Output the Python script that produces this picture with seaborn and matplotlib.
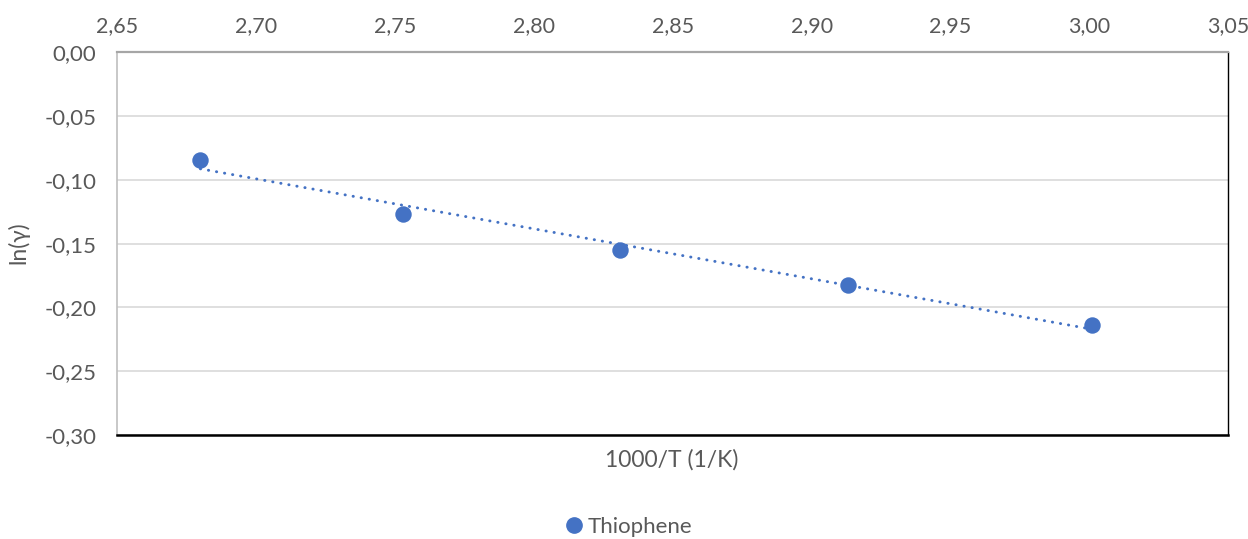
import numpy as np
import pandas as pd
import matplotlib
matplotlib.use("Agg")
import matplotlib.pyplot as plt
import seaborn as sns
from matplotlib.ticker import FuncFormatter, MultipleLocator
from matplotlib.lines import Line2D

# data
inv_temp = [2.680, 2.753, 2.831, 2.913, 3.001]
ln_gamma = [-0.0840, -0.1263, -0.1550, -0.1820, -0.2139]
series_name = "Thiophene"
x_label = "1000/T (1/K)"
y_label = "ln(γ)"

blue = "#4472C4"
text_grey = "#595959"

sns.set_style("white")
plt.rcParams["font.family"] = ["Lato", "DejaVu Sans"]

df = pd.DataFrame({"x": inv_temp, "y": ln_gamma})

fig = plt.figure(figsize=(12.48, 5.39), dpi=100)
ax = fig.add_axes([0.09375, 0.193, 0.8905, 0.7096])

# dotted linear trendline
sns.regplot(data=df, x="x", y="y", ax=ax, scatter=False, ci=None, truncate=True,
            line_kws=dict(color=blue, lw=2.1, linestyle=(0, (0.1, 2.7)),
                          dash_capstyle="round", zorder=3))
sns.scatterplot(data=df, x="x", y="y", ax=ax, color=blue, s=140,
                linewidth=0, zorder=4, legend=False)

ax.set_xlim(2.65, 3.05)
ax.set_ylim(-0.30, 0.0)
ax.xaxis.set_major_locator(MultipleLocator(0.05))
ax.yaxis.set_major_locator(MultipleLocator(0.05))
fmt = FuncFormatter(lambda v, p: f"{v:.2f}".replace(".", ",").replace("-0,00", "0,00"))
ax.xaxis.set_major_formatter(fmt)
ax.yaxis.set_major_formatter(fmt)
ax.xaxis.tick_top()
ax.tick_params(axis="x", length=0, pad=12, labelsize=15.5, labelcolor=text_grey)
ax.tick_params(axis="y", length=0, pad=15, labelsize=16, labelcolor=text_grey)

ax.grid(axis="y", color="#d9d9d9", lw=1.2)
ax.grid(axis="x", visible=False)
ax.set_axisbelow(True)

ax.spines["left"].set_color("#bfbfbf")
ax.spines["left"].set_linewidth(1.2)
ax.spines["top"].set_color("#a6a6a6")
ax.spines["top"].set_linewidth(1.6)
ax.spines["bottom"].set_color("black")
ax.spines["bottom"].set_linewidth(1.8)
ax.spines["right"].set_color("black")
ax.spines["right"].set_linewidth(1.0)

ax.set_xlabel("")
ax.set_ylabel("")
fig.text(0.538, 0.147, x_label, ha="center", va="center", fontsize=16.5, color=text_grey)
fig.text(0.015, 0.55, y_label, ha="center", va="center", rotation=90,
         fontsize=16.5, color=text_grey)

handle = Line2D([], [], marker="o", color=blue, linestyle="none", markersize=11)
fig.legend([handle], [series_name], loc="center", bbox_to_anchor=(0.503, 0.022),
           frameon=False, fontsize=16, handletextpad=0.1, labelcolor=text_grey,
           handlelength=1.0)

fig.savefig("out.png", dpi=100)
